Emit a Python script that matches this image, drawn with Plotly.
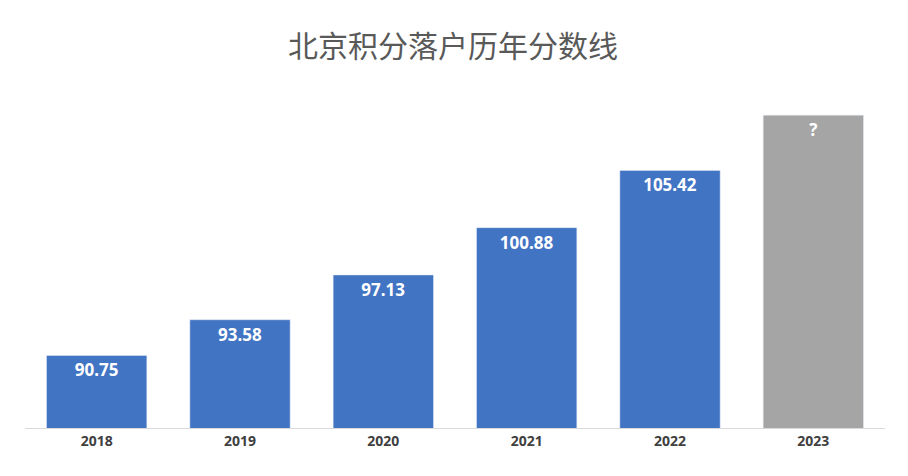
import plotly.graph_objects as go

years = ["2018", "2019", "2020", "2021", "2022", "2023"]
values = [90.75, 93.58, 97.13, 100.88, 105.42, 109.8]
labels = ["90.75", "93.58", "97.13", "100.88", "105.42", "?"]
colors = ["#4274C4"] * 5 + ["#A5A5A5"]

fig = go.Figure(go.Bar(
    x=years, y=values, text=labels, textposition="inside", insidetextanchor="end",
    textangle=0,
    textfont=dict(family="Noto Sans, sans-serif", size=17, color="white", weight="bold"),
    marker=dict(color=colors), width=0.7, hoverinfo="skip"))

fig.update_layout(
    width=908, height=476, paper_bgcolor="white", plot_bgcolor="white",
    margin=dict(l=17, r=31, t=92, b=56),
    title=dict(text="北京积分落户历年分数线", x=0.49, y=0.92, xanchor="center", yanchor="middle",
               font=dict(family="Noto Sans CJK SC", size=30, color="#595959")),
    xaxis=dict(showline=True, linecolor="#D9D9D9", tickfont=dict(family="Noto Sans, sans-serif", size=14, color="#404040", weight="bold"), ticks=""),
    yaxis=dict(range=[85, 111], visible=False),
    showlegend=False,
)
fig.write_html("out.html")
